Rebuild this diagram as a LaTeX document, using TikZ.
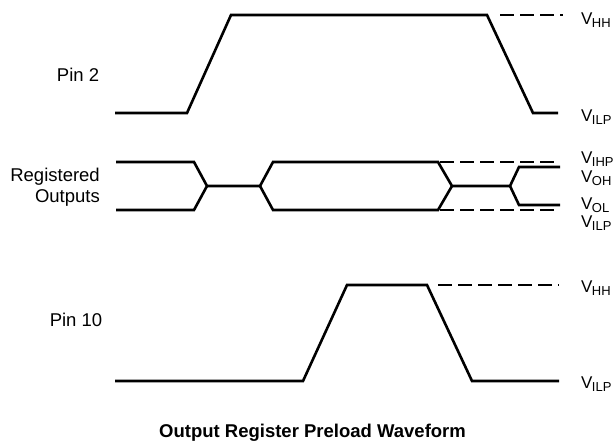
\documentclass[tikz,border=0pt]{standalone}
\usepackage{fontspec}
\setmainfont{Liberation Sans}
\newcommand{\Vlab}[1]{V\kern-0.6pt\raisebox{-0.3ex}{\fontsize{13}{14}\selectfont #1}}
\begin{document}
\begin{tikzpicture}[x=1pt,y=-1pt,
  wave/.style={line width=2.6pt, line join=miter, line cap=butt},
  dashwave/.style={line width=2.2pt, dash pattern=on 14pt off 6pt},
  lab/.style={font=\fontsize{18.5}{21}\selectfont, inner sep=0pt},
  vlab/.style={font=\fontsize{17}{19}\selectfont, anchor=west, inner sep=0pt},
  ttl/.style={font=\fontsize{18.5}{21}\selectfont\bfseries, inner sep=0pt, anchor=north west}]
\useasboundingbox (0,0) rectangle (616,444);
% Pin 2
\draw[wave] (115,113) -- (187,113) -- (231,15) -- (487,15) -- (533,113) -- (558,113);
\draw[dashwave] (500,15) -- (563,15);
\node[lab] (p2) at (78,75) {Pin 2};
\node[vlab] (p2h) at (581,20) {\Vlab{HH}};
\node[vlab] (p2l) at (581,117) {\Vlab{ILP}};
% Registered outputs
\draw[wave] (116,162) -- (194,162) -- (207,186) -- (260,186) -- (273,162) -- (438,162) -- (452,186) -- (510,186) -- (519,167) -- (560,167);
\draw[wave] (116,210) -- (194,210) -- (207,186);
\draw[wave] (260,186) -- (273,210) -- (438,210) -- (452,186);
\draw[wave] (510,186) -- (519,205) -- (560,205);
\draw[dashwave] (440,162) -- (560,162);
\draw[dashwave] (440,210) -- (560,210);
\node[lab, anchor=east] (ro1) at (100,177) {Registered};
\node[lab, anchor=east] (ro2) at (100,198) {Outputs};
\node[vlab] (rihp) at (581,159) {\Vlab{IHP}};
\node[vlab] (roh) at (581,178) {\Vlab{OH}};
\node[vlab] (rol) at (581,205) {\Vlab{OL}};
\node[vlab] (rilp) at (581,223) {\Vlab{ILP}};
% Pin 10
\draw[wave] (115,381) -- (303,381) -- (347,285) -- (427,285) -- (472,381) -- (559,381);
\draw[dashwave] (438,285) -- (559,285);
\node[lab] (p10) at (76,320) {Pin 10};
\node[vlab] (p10h) at (581,288) {\Vlab{HH}};
\node[vlab] (p10l) at (581,384) {\Vlab{ILP}};
% Title
\node[ttl] (title) at (159,424) {Output Register Preload Waveform};
\end{tikzpicture}
\end{document}
